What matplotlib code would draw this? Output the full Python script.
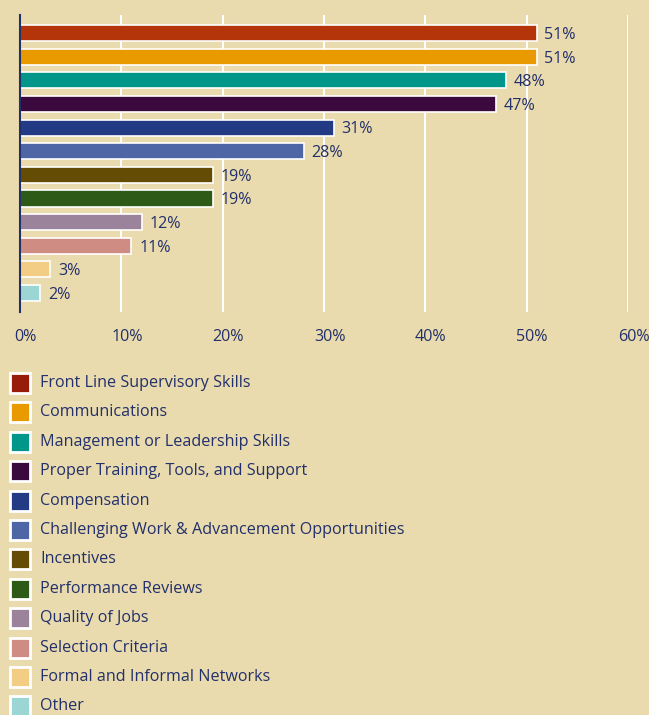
import matplotlib.pyplot as plt
from matplotlib.patches import Rectangle

categories = [
    "Front Line Supervisory Skills",
    "Communications",
    "Management or Leadership Skills",
    "Proper Training, Tools, and Support",
    "Compensation",
    "Challenging Work & Advancement Opportunities",
    "Incentives",
    "Performance Reviews",
    "Quality of Jobs",
    "Selection Criteria",
    "Formal and Informal Networks",
    "Other",
]
values = [51, 51, 48, 47, 31, 28, 19, 19, 12, 11, 3, 2]
colors = ["#B5350B", "#E89A00", "#00968A", "#3A0A3E", "#233A84", "#4E65A6",
          "#654C05", "#2E5A18", "#9C839C", "#CF8C82", "#F3CD83", "#9BD6D4"]
legend_colors = ["#971C0A", "#E89A00", "#00968A", "#3A0A3E", "#233A84", "#4E65A6",
                 "#654C05", "#2E5A18", "#9C839C", "#CF8C82", "#F3CD83", "#9BD6D4"]
ticks = [0, 10, 20, 30, 40, 50, 60]

bg = "#E9DBAD"
navy = "#22306B"
fs = 11.6
plt.rcParams['font.family'] = ['Open Sans', 'DejaVu Sans']

W, H = 649, 715
fig = plt.figure(figsize=(W / 100, H / 100), dpi=100, facecolor=bg)
ax = fig.add_axes([20 / W, 1 - 312 / H, 608 / W, 297 / H], facecolor=bg)

ypos = list(range(len(values)))
ax.barh(ypos, values, height=0.68, color=colors, edgecolor="white", linewidth=1.2, zorder=3)
for y, v in zip(ypos, values):
    ax.text(v + 0.75, y + 0.08, f"{v}%", va="center", ha="left", color=navy,
            fontsize=fs, fontweight="medium", zorder=4)

ax.set_xlim(0, 60)
ax.set_ylim(11.8, -0.76)
ax.set_xticks(ticks)
ax.set_xticklabels([])
ax.tick_params(axis="x", length=0)
# tick labels sit a little right of their gridlines
for t in ticks:
    ax.text(t + 0.55, -0.085, f"{t}%", transform=ax.get_xaxis_transform(),
            ha="center", va="center", color=navy, fontsize=fs, fontweight="medium")
ax.set_yticks([])
ax.grid(axis="x", color="white", linewidth=1.5, zorder=0)
for s in ["top", "right", "bottom"]:
    ax.spines[s].set_visible(False)
ax.spines["left"].set_color(navy)
ax.spines["left"].set_linewidth(1.5)
ax.spines["left"].set_zorder(5)

# legend drawn by hand
for i, (lab, c) in enumerate(zip(categories, legend_colors)):
    yc = 383 + i * 29.4
    fig.add_artist(Rectangle((10 / W, 1 - (yc + 10) / H), 20 / W, 20 / H,
                             transform=fig.transFigure, facecolor=c,
                             edgecolor="white", linewidth=2))
    fig.text(40 / W, 1 - yc / H, lab, va="center", ha="left", color=navy,
             fontsize=fs, fontweight="medium")

fig.savefig("out.png", dpi=100, facecolor=bg)
